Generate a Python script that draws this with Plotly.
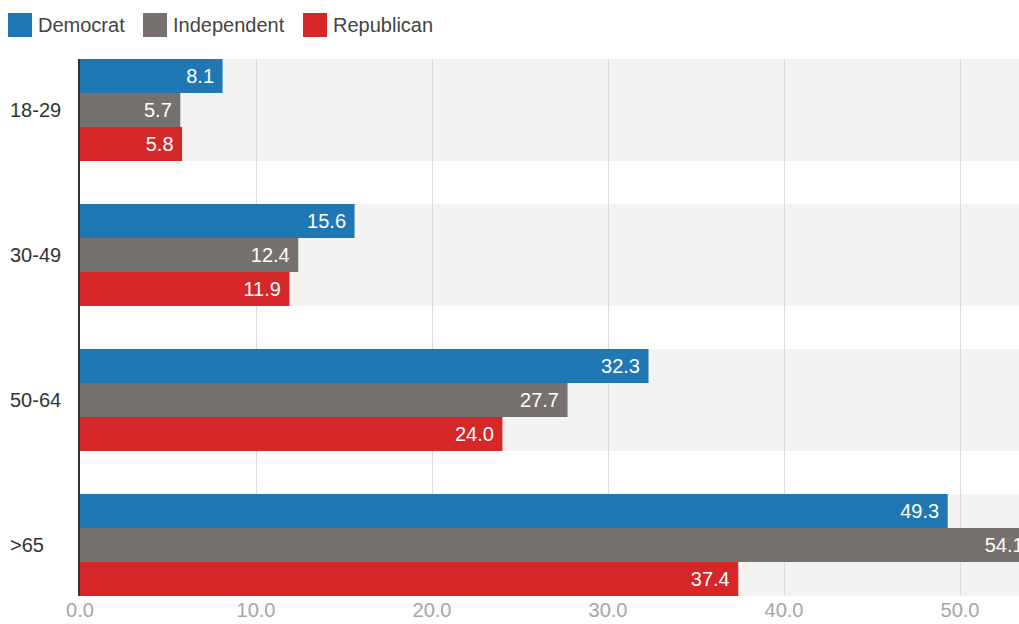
import plotly.graph_objects as go

categories = ["18-29", "30-49", "50-64", ">65"]
series_names = ["Democrat", "Independent", "Republican"]
democrat = [8.1, 15.6, 32.3, 49.3]
independent = [5.7, 12.4, 27.7, 54.1]
republican = [5.8, 11.9, 24.0, 37.4]
colors = ["#1f77b4", "#76716f", "#d62728"]
x_ticks = [0, 10, 20, 30, 40, 50]

values = [democrat, independent, republican]

W, H = 1019, 624
ml, mr, mt, mb = 80, 0, 59, 28
pw = W - ml - mr
ph = H - mt - mb
FONT = "Liberation Sans"

half = 0.3517
fig = go.Figure()
for name, vals, col in zip(series_names, values, colors):
    fig.add_trace(go.Bar(
        y=categories, x=vals, name=name, orientation="h",
        marker=dict(color=col, line=dict(width=0)),
        text=[f"{v:.1f} " for v in vals], textposition="inside",
        insidetextanchor="end",
        textfont=dict(color="white", size=20, family=FONT),
        showlegend=False, cliponaxis=True,
    ))

shapes = []
for i, c in enumerate(categories):
    shapes.append(dict(type="rect", xref="paper", yref="y", x0=0, x1=1,
                       y0=i - half, y1=i + half, fillcolor="#f3f3f3",
                       line=dict(width=0), layer="below"))

annotations = []
for i, c in enumerate(categories):
    annotations.append(dict(xref="paper", yref="y", x=-72 / pw, y=i, text=c,
                            showarrow=False, xanchor="left", yanchor="middle",
                            font=dict(size=20, color="#333333", family=FONT)))

# custom legend
leg_x = [8, 143, 303]
for lx, name, col in zip(leg_x, series_names, colors):
    shapes.append(dict(type="rect", xref="paper", yref="paper",
                       x0=(lx - ml) / pw, x1=(lx + 24 - ml) / pw,
                       y0=(H - 37 - mb) / ph, y1=(H - 13 - mb) / ph,
                       fillcolor=col, line=dict(width=0)))
    annotations.append(dict(xref="paper", yref="paper", x=(lx + 28 - ml) / pw,
                            y=(H - 25 - mb) / ph, text=name, showarrow=False,
                            xanchor="left", yanchor="middle",
                            font=dict(size=20, color="#444444", family=FONT)))

fig.update_layout(
    width=W, height=H,
    margin=dict(l=ml, r=mr, t=mt, b=mb),
    barmode="group", bargap=0.2966, bargroupgap=0,
    plot_bgcolor="white", paper_bgcolor="white",
    shapes=shapes, annotations=annotations,
    font=dict(family=FONT),
    xaxis=dict(range=[0, 53.35], tickvals=x_ticks, tickformat=".1f",
               showgrid=True, gridcolor="#dcdcdc", gridwidth=1,
               zeroline=False, showline=False,
               tickfont=dict(size=20, color="#a6a6a6"), ticks=""),
    yaxis=dict(range=[3 + half, -half], showticklabels=False, showgrid=False,
               zeroline=False, showline=True, linecolor="#333333", linewidth=1.5,
               ticks=""),
)

fig.write_html("out.html",
               config={"displayModeBar": False},
               post_script="document.body.style.margin='0';"
                           "document.documentElement.style.overflow='hidden';"
                           "document.body.style.overflow='hidden';")
